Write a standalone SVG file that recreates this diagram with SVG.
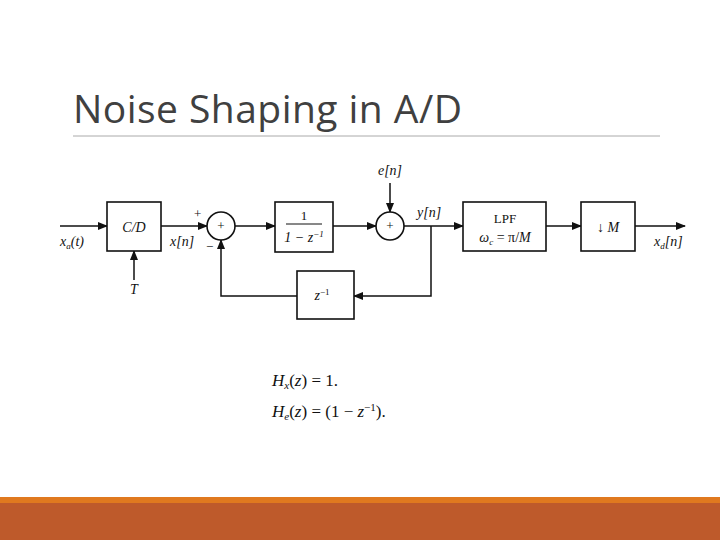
<svg xmlns="http://www.w3.org/2000/svg" width="720" height="540" viewBox="0 0 720 540">
<style>
.b{fill:#fff;stroke:#111;stroke-width:1.6}
.l{fill:none;stroke:#111;stroke-width:1.5}
.t{font-family:"Liberation Serif",serif;font-style:italic;font-size:14px;fill:#111}
.r{font-family:"Liberation Serif",serif;font-size:13px;fill:#111}
</style>
<defs><marker id="a" markerWidth="10" markerHeight="8" refX="9" refY="4" orient="auto" markerUnits="userSpaceOnUse"><path d="M0,0L10,4L0,8z" fill="#111"/></marker></defs>
<rect width="720" height="540" fill="#fff"/>
<text x="73" y="123" font-family="Open Sans,sans-serif" font-size="39" fill="#404040" textLength="389">Noise Shaping in A/D</text>
<line x1="73" y1="136" x2="660" y2="136" stroke="#aaa" stroke-width="1"/>
<rect x="0" y="497" width="720" height="6" fill="#E0791F"/>
<rect x="0" y="503" width="720" height="37" fill="#BE5A2B"/>
<g id="connectors">
<line class="l" x1="60" y1="226" x2="107" y2="226" marker-end="url(#a)"/>
<line class="l" x1="134" y1="280" x2="134" y2="251" marker-end="url(#a)"/>
<line class="l" x1="161" y1="226" x2="207" y2="226" marker-end="url(#a)"/>
<line class="l" x1="235" y1="226" x2="275" y2="226" marker-end="url(#a)"/>
<line class="l" x1="333" y1="226" x2="376" y2="226" marker-end="url(#a)"/>
<line class="l" x1="390" y1="183" x2="390" y2="212" marker-end="url(#a)"/>
<line class="l" x1="404" y1="226" x2="463" y2="226" marker-end="url(#a)"/>
<polyline class="l" points="431,226 431,296 354,296" marker-end="url(#a)"/>
<polyline class="l" points="297,296 221,296 221,240" marker-end="url(#a)"/>
<line class="l" x1="546" y1="226" x2="581" y2="226" marker-end="url(#a)"/>
<line class="l" x1="635" y1="226" x2="685" y2="226" marker-end="url(#a)"/>
</g>
<g id="cd"><rect class="b" x="107" y="202" width="54" height="49"/><text class="t" x="134" y="232" text-anchor="middle" font-size="15">C/D</text></g>
<g id="sum1"><circle class="b" cx="221" cy="226" r="14"/><text class="r" x="221" y="230" text-anchor="middle">+</text></g>
<g id="integ"><rect class="b" x="275" y="202" width="58" height="50"/><text class="r" x="304" y="220" text-anchor="middle" font-size="14">1</text><line x1="286" y1="224" x2="322" y2="224" stroke="#111"/><text class="t" x="304" y="242" text-anchor="middle" font-style="normal">1 − <tspan font-style="italic">z</tspan><tspan font-size="9" dy="-5">−1</tspan></text></g>
<g id="sum2"><circle class="b" cx="390" cy="226" r="14"/><text class="r" x="390" y="230" text-anchor="middle">+</text></g>
<g id="delay"><rect class="b" x="297" y="271" width="57" height="48"/><text class="t" x="322" y="300" text-anchor="middle">z<tspan font-size="9" dy="-5" font-style="normal">−1</tspan></text></g>
<g id="lpf"><rect class="b" x="463" y="202" width="83" height="49"/><text class="r" x="505" y="223" text-anchor="middle" font-size="14">LPF</text><text class="t" x="505" y="242" text-anchor="middle">ω<tspan font-size="9" dy="3">c</tspan><tspan dy="-3" font-style="normal"> = π/</tspan>M</text></g>
<g id="down"><rect class="b" x="581" y="202" width="54" height="49"/><text class="t" x="608" y="232" text-anchor="middle"><tspan font-style="normal">↓</tspan> M</text></g>
<g id="labels">
<text class="t" x="60" y="246">x<tspan font-size="9" dy="3">a</tspan><tspan dy="-3">(t)</tspan></text>
<text class="t" x="134" y="294" text-anchor="middle">T</text>
<text class="t" x="170" y="246">x[n]</text>
<text class="r" x="194" y="218">+</text>
<text class="r" x="206" y="251">−</text>
<text class="t" x="390" y="175" text-anchor="middle" font-size="12">e[n]</text>
<text class="t" x="417" y="217">y[n]</text>
<text class="t" x="654" y="246">x<tspan font-size="9" dy="3">d</tspan><tspan dy="-3">[n]</tspan></text>
</g>
<g id="eqs" font-family="Liberation Serif,serif" font-size="17" fill="#111">
<text x="272" y="386"><tspan font-style="italic">H</tspan><tspan font-size="11" dy="3" font-style="italic">x</tspan><tspan dy="-3">(</tspan><tspan font-style="italic">z</tspan>) = 1.</text>
<text x="272" y="417"><tspan font-style="italic">H</tspan><tspan font-size="11" dy="3" font-style="italic">e</tspan><tspan dy="-3">(</tspan><tspan font-style="italic">z</tspan>) = (1 − <tspan font-style="italic">z</tspan><tspan font-size="11" dy="-6">−1</tspan><tspan dy="6">).</tspan></text>
</g>
</svg>
